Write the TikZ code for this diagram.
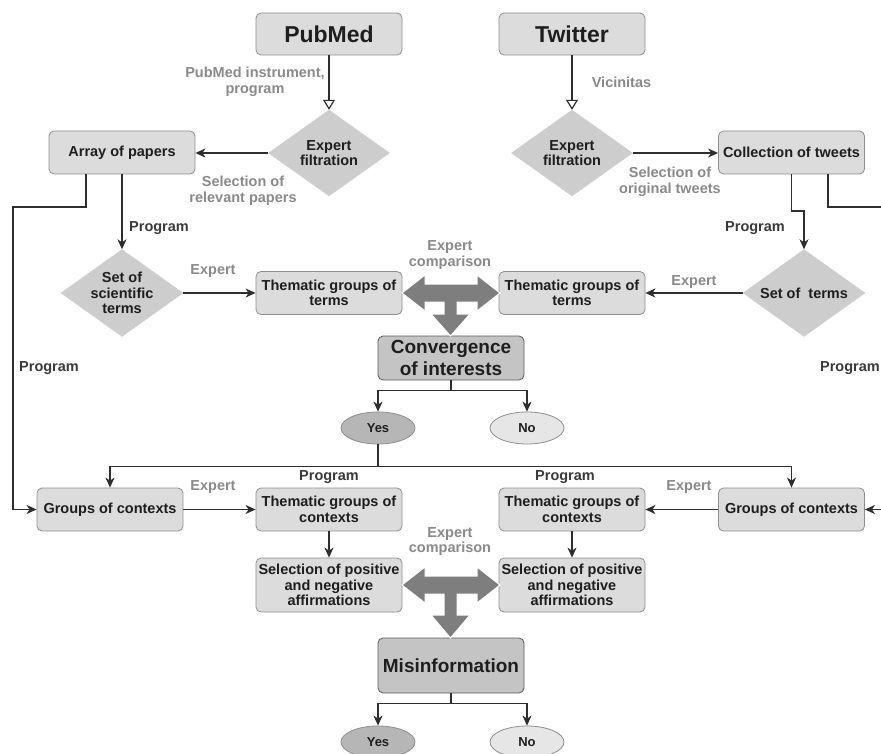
\documentclass[tikz,border=0pt]{standalone}
\usepackage{fontspec}
\setmainfont{Liberation Sans}
\usetikzlibrary{shapes.geometric,arrows.meta,calc}
\definecolor{boxfill}{HTML}{DCDCDC}
\definecolor{boxline}{HTML}{8E8E8E}
\definecolor{bigfill}{HTML}{C4C4C4}
\definecolor{bigline}{HTML}{5A5A5A}
\definecolor{diafill}{HTML}{CDCDCD}
\definecolor{lblgray}{HTML}{8A8A8A}
\definecolor{txt}{HTML}{1E1E1E}
\definecolor{progcol}{HTML}{3A3A3A}
\definecolor{linecol}{HTML}{2E2E2E}
\definecolor{tgray}{HTML}{7E7E7E}
\definecolor{yesfill}{HTML}{B6B6B6}
\definecolor{nofill}{HTML}{E6E6E6}
\begin{document}
\begin{tikzpicture}[x=1pt,y=-1pt,
  f145/.style={font=\bfseries\fontsize{14.5}{15.5}\selectfont},
  box/.style={draw=boxline, fill=boxfill, rounded corners=5pt, minimum width=146pt,
    minimum height=43pt, inner sep=1pt, align=center, f145, text=txt, line width=0.8pt},
  bigbox/.style={box, fill=bigfill, draw=bigline, font=\bfseries\fontsize{19}{22}\selectfont},
  titlebox/.style={box, minimum height=42pt, font=\bfseries\fontsize{23}{26}\selectfont},
  dia/.style={diamond, draw=diafill, fill=diafill, minimum width=121pt, minimum height=86pt, inner sep=0pt},
  diatxt/.style={f145, text=txt, align=center, inner sep=0pt},
  lbl/.style={f145, text=lblgray, align=center, inner sep=0pt},
  prog/.style={f145, text=progcol, align=center, inner sep=0pt},
  line/.style={draw=linecol, line width=1.2pt},
  arr/.style={line, -{Stealth[length=10pt,width=9pt,inset=3pt]}},
  openarr/.style={line, -{Triangle[open,length=10pt,width=12pt,fill=white]}},
  oval/.style={ellipse, draw=boxline, line width=0.8pt, minimum width=74pt, minimum height=32pt,
    inner sep=0pt, font=\bfseries\fontsize{13}{14}\selectfont, text=txt},
  yesov/.style={oval, fill=yesfill},
  noov/.style={oval, fill=nofill},
  tarrow/.style={fill=tgray, draw=white, line width=1pt}
]
\useasboundingbox (0,0) rectangle (881,754);
\clip (0,0) rectangle (881,754);

% nodes
\node[titlebox] (pub) at (329,34) {PubMed};
\node[titlebox] (tw) at (572,34) {Twitter};
\node[dia, label={[diatxt]center:{Expert\\filtration}}] (ef1) at (329,153) {};
\node[dia, label={[diatxt]center:{Expert\\filtration}}] (ef2) at (572,153) {};
\node[box] (arrp) at (122,152.5) {Array of papers};
\node[box] (coll) at (791.5,152.5) {Collection of tweets};
\node[dia, minimum width=122pt, minimum height=87pt, label={[diatxt]center:{Set of\\scientific\\terms}}] (sst) at (122,293) {};
\node[box] (tg1) at (329,293) {Thematic groups of\\terms};
\node[box] (tg2) at (572,293) {Thematic groups of\\terms};
\node[dia, minimum width=122pt, minimum height=87pt, label={[diatxt]center:{Set of\ \ terms}}] (st) at (804,293) {};
\node[bigbox, minimum height=44pt] (conv) at (451,358) {Convergence\\of interests};
\node[yesov] (y1) at (378,428) {Yes};
\node[noov] (n1) at (527,428) {No};
\node[box] (gl) at (110,509.5) {Groups of contexts};
\node[box] (tc1) at (329,509.5) {Thematic groups of\\contexts};
\node[box] (tc2) at (572,509.5) {Thematic groups of\\contexts};
\node[box] (gr) at (791.5,509.5) {Groups of contexts};
\node[box, minimum height=54pt] (sel1) at (329,585) {Selection of positive\\and negative\\affirmations};
\node[box, minimum height=54pt] (sel2) at (572,585) {Selection of positive\\and negative\\affirmations};
\node[bigbox, minimum height=55pt] (mis) at (451,665.5) {Misinformation};
\node[yesov] (y2) at (378,742) {Yes};
\node[noov] (n2) at (527,742) {No};

% labels
\node[lbl] (l1) at (255,82) {PubMed instrument,\\program};
\node[lbl] (l2) at (621.5,82) {Vicinitas};
\node[lbl] (l3) at (243,191) {Selection of\\relevant papers};
\node[lbl] (l4) at (670,182) {Selection of\\original tweets};
\node[prog, anchor=west] (p1) at (129,228) {Program};
\node[prog] (p2) at (755,228) {Program};
\node[lbl] (e1) at (213,271) {Expert};
\node[lbl] (e2) at (694,282) {Expert};
\node[lbl] (ec1) at (450,255) {Expert\\comparison};
\node[prog, anchor=west] (p3) at (19,368) {Program};
\node[prog, anchor=east] (p4) at (880,368) {Program};
\node[prog] (p5) at (329,477) {Program};
\node[prog] (p6) at (565,477) {Program};
\node[lbl] (e3) at (213,487) {Expert};
\node[lbl] (e4) at (689,487) {Expert};
\node[lbl] (ec2) at (450,541.5) {Expert\\comparison};

% connectors
\draw[openarr] (pub) -- (ef1);
\draw[openarr] (tw) -- (ef2);
\draw[arr] (ef1.west) -- (ef1.west -| arrp.east);
\draw[arr] (ef2.east) -- (ef2.east -| coll.west);
\draw[arr] (arrp) -- (sst);
\draw[arr] (sst) -- (tg1);
\draw[arr] (st) -- (tg2);
\coordinate (jog) at (797,211);
\draw[arr] (coll.south) |- (jog) -| (st.north);
\coordinate (lc) at (13,207);
\draw[arr] ([xshift=-36pt]arrp.south) |- (lc) |- (gl.west);
\coordinate (rc) at (897,207);
\draw[arr] ([xshift=36.5pt]coll.south) |- (rc) |- (gr.east);
\draw[line] (conv.south) -- ++(0,10) coordinate (cb);
\draw[arr] (cb) -| (y1.north);
\draw[arr] (cb) -| (n1.north);
\draw[line] (y1.south) -- ++(0,22) coordinate (yb);
\draw[arr] (yb) -| (gl.north);
\draw[arr] (yb) -| (gr.north);
\draw[arr] (gl) -- (tc1);
\draw[arr] (gr) -- (tc2);
\draw[arr] (tc1) -- (sel1);
\draw[arr] (tc2) -- (sel2);
\draw[line] (mis.south) -- ++(0,10) coordinate (mb);
\draw[arr] (mb) -| (y2.north);
\draw[arr] (mb) -| (n2.north);

% T-shaped comparison arrows
\path[tarrow] (402,293) -- (425,275) -- (425,284) -- (477,284) -- (477,275) -- (500,293)
  -- (477,311) -- (477,302) -- (457,302) -- (457,314) -- (470,314) -- (450.5,336)
  -- (431,314) -- (444,314) -- (444,302) -- (425,302) -- (425,311) -- cycle;
\path[tarrow] (402,585) -- (425,567) -- (425,576) -- (477,576) -- (477,567) -- (500,585)
  -- (477,603) -- (477,594) -- (457,594) -- (457,615) -- (470,615) -- (450.5,638)
  -- (431,615) -- (444,615) -- (444,594) -- (425,594) -- (425,603) -- cycle;
\end{tikzpicture}
\end{document}
